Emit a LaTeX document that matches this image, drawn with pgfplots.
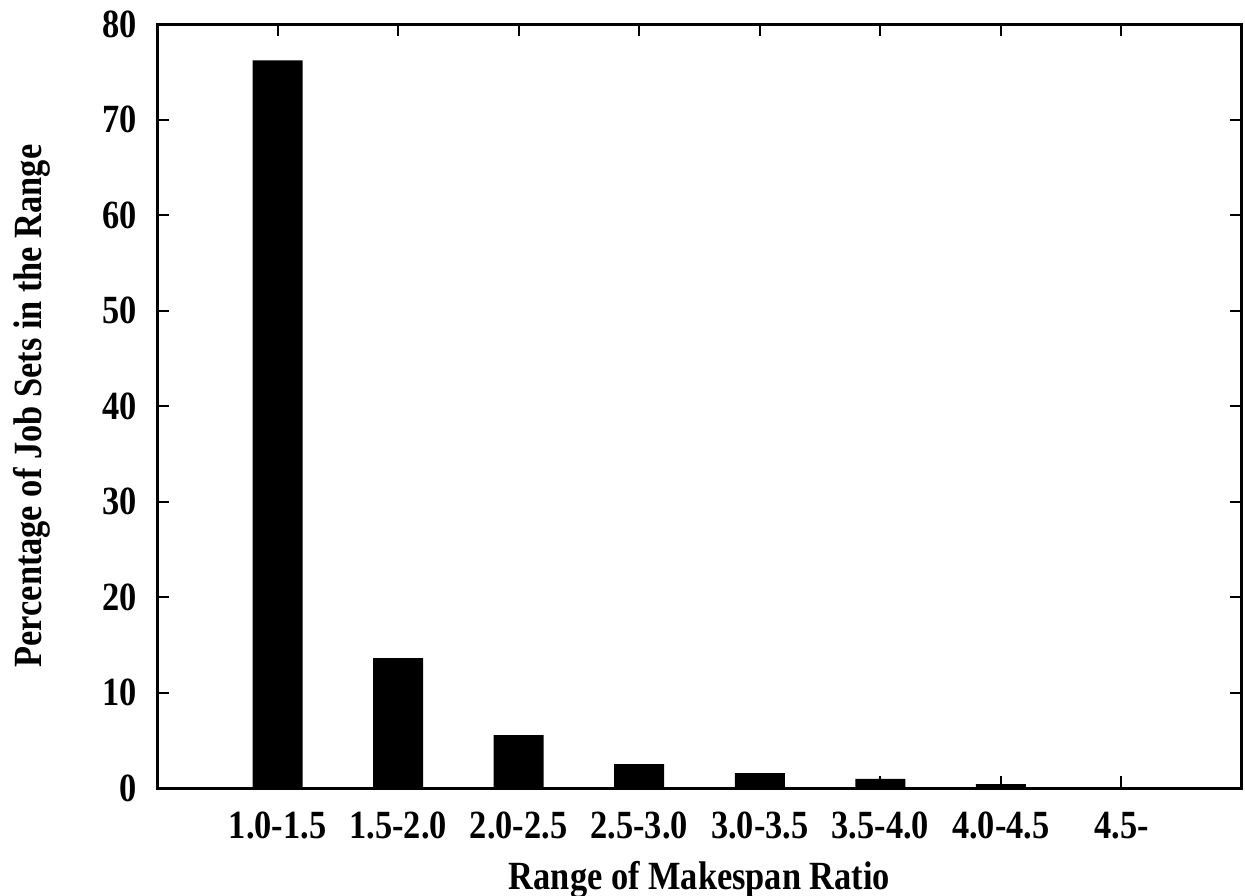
\documentclass[border=0pt]{standalone}
\usepackage{fontspec}
\setmainfont[FakeStretch=0.86]{Liberation Serif}
\usepackage{pgfplots}
\pgfplotsset{compat=1.18}
\begin{document}
\begin{tikzpicture}
\begin{axis}[
  name=ax,
  scale only axis,
  width=271.25pt, height=191pt,
  xmin=0, xmax=9, ymin=0, ymax=80,
  xtick={1,2,3,4,5,6,7,8},
  xticklabels={1.0-1.5,1.5-2.0,2.0-2.5,2.5-3.0,3.0-3.5,3.5-4.0,4.0-4.5,4.5-},
  ytick={0,10,20,30,40,50,60,70,80},
  tick align=inside,
  major tick length=3pt,
  every tick/.style={black, line width=0.5pt},
  axis line style={line width=0.75pt},
  font=\fontsize{10}{12}\selectfont\bfseries,
  /pgf/number format/assume math mode=true,
  xticklabel style={anchor=base, yshift=-12.5pt, inner sep=0pt},
  yticklabel style={anchor=east, inner sep=0pt, xshift=-4.75pt},
  xlabel={Range of Makespan Ratio},
  ylabel={Percentage of Job Sets in the Range},
  xlabel style={at={(axis description cs:0.5,0)}, anchor=base, yshift=-25.25pt, inner sep=0pt},
  ylabel style={at={(axis description cs:-0.106,0.5)}, anchor=base, inner sep=0pt},
]
\addplot[ybar, bar width=12.5pt, fill=black, draw=none] coordinates {
  (1,76.2) (2,13.6) (3,5.55) (4,2.5) (5,1.55) (6,0.95) (7,0.4) (8,0.0)
};
\end{axis}
\pgfresetboundingbox
\path[use as bounding box] ([shift={(-39.25pt,-26.75pt)}]ax.south west) rectangle ([shift={(0.75pt,6pt)}]ax.north east);
\end{tikzpicture}
\end{document}
